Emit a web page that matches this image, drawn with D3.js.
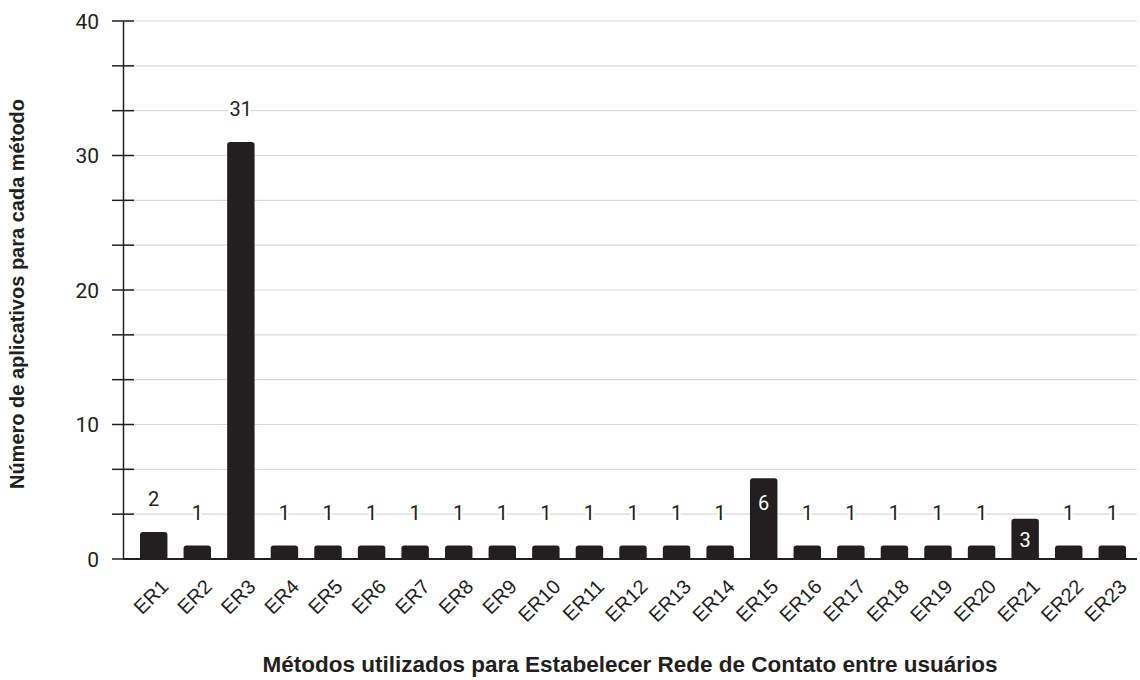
<!DOCTYPE html>
<html>
<head>
<meta charset="utf-8">
<script src="https://cdn.jsdelivr.net/npm/d3@7"></script>
<style>
  html, body { margin: 0; padding: 0; background: #fff; }
  svg { display: block; }
</style>
</head>
<body>
<svg id="chart" width="1140" height="680"></svg>
<script>
// Methods used to establish a contact network between users
const categories = ["ER1","ER2","ER3","ER4","ER5","ER6","ER7","ER8","ER9","ER10","ER11","ER12",
  "ER13","ER14","ER15","ER16","ER17","ER18","ER19","ER20","ER21","ER22","ER23"];
const counts = [2,1,31,1,1,1,1,1,1,1,1,1,1,1,6,1,1,1,1,1,3,1,1];
const yTickLabels = [0, 10, 20, 30, 40];
const yTitle = "Número de aplicativos para cada método";
const xTitle = "Métodos utilizados para Estabelecer Rede de Contato entre usuários";
// bars whose value label is drawn inside the bar
const labelInside = ["ER15", "ER21"];

const svg = d3.select("#chart");
const plotLeft = 123, plotRight = 1137, plotTop = 21, plotBottom = 559;
const sans = "Arial, 'Liberation Sans', Helvetica, sans-serif";
const numFont = "Roboto, sans-serif";

const x = d3.scaleBand().domain(categories).range([plotLeft, 1143])
  .paddingInner(0.37).paddingOuter(0.39);
const y = d3.scaleLinear().domain([0, 40]).range([plotBottom, plotTop]);

// grid lines every 10/3 units
const gridVals = d3.range(1, 13).map(i => i * 10 / 3);
svg.append("g").selectAll("line").data(gridVals).join("line")
  .attr("x1", plotLeft).attr("x2", plotRight)
  .attr("y1", d => y(d)).attr("y2", d => y(d))
  .attr("stroke", "#d9d9d9").attr("stroke-width", 1.2);

// y axis
const yAxis = d3.axisLeft(y).tickValues(yTickLabels).tickSize(0).tickFormat(d3.format("d"));
const gy = svg.append("g").attr("transform", `translate(${plotLeft},0)`).call(yAxis);
gy.select(".domain").attr("stroke", "#231f20").attr("stroke-width", 1.5);
gy.selectAll("text").attr("x", -24).attr("dy", "0.35em")
  .style("font-family", numFont).style("font-size", "21px").attr("fill", "#231f20");
// tick marks (major and minor)
const tickVals = [0].concat(gridVals);
svg.append("g").selectAll("line").data(tickVals).join("line")
  .attr("x1", plotLeft - 11).attr("x2", plotLeft + 11)
  .attr("y1", d => y(d)).attr("y2", d => y(d))
  .attr("stroke", "#231f20").attr("stroke-width", 1.5);

// bars with rounded tops
const r = 3;
function barPath(d, i) {
  const x0 = x(categories[i]), w = x.bandwidth();
  const y0 = y(d), y1 = y(0);
  return `M${x0},${y1} V${y0 + r} Q${x0},${y0} ${x0 + r},${y0} H${x0 + w - r} Q${x0 + w},${y0} ${x0 + w},${y0 + r} V${y1} Z`;
}
svg.append("g").selectAll("path").data(counts).join("path")
  .attr("d", barPath)
  .attr("fill", "#231f20");

// x axis baseline
svg.append("line").attr("x1", plotLeft).attr("x2", plotRight)
  .attr("y1", plotBottom).attr("y2", plotBottom)
  .attr("stroke", "#231f20").attr("stroke-width", 2);

// value labels
const lbl = svg.append("g").selectAll("g").data(counts).join("g");
lbl.each(function(d, i) {
  const g = d3.select(this);
  const cx = x(categories[i]) + x.bandwidth() / 2;
  const inside = labelInside.includes(categories[i]);
  const cy = inside ? y(d) + (d > 4 ? 25 : 21) : y(d) - 33;
  if (!inside) {
    g.append("text").attr("x", cx).attr("y", cy).attr("dy", "0.35em")
      .attr("text-anchor", "middle")
      .style("font-family", numFont).style("font-size", "20px")
      .attr("stroke", "#fff").attr("stroke-width", 5).attr("stroke-linejoin", "round")
      .attr("fill", "#fff").text(d);
  }
  g.append("text").attr("x", cx).attr("y", cy).attr("dy", "0.35em")
    .attr("text-anchor", "middle")
    .style("font-family", numFont).style("font-size", "20px")
    .attr("fill", inside ? "#fff" : "#231f20").text(d);
});

// category labels, rotated
svg.append("g").selectAll("text").data(categories).join("text")
  .attr("transform", d => `translate(${x(d) + x.bandwidth() / 2 + 6},${plotBottom + 19}) rotate(-45)`)
  .attr("text-anchor", "end").attr("dy", "0.7em")
  .style("font-family", sans).style("font-size", "20px")
  .attr("fill", "#231f20").text(d => d);

// axis titles
svg.append("text").attr("x", 630).attr("y", 672).attr("text-anchor", "middle")
  .style("font-family", sans).style("font-size", "22.5px")
  .style("font-weight", "bold").attr("fill", "#231f20").text(xTitle);
svg.append("text").attr("transform", "translate(24,294) rotate(-90)").attr("text-anchor", "middle")
  .style("font-family", sans).style("font-size", "20px")
  .style("font-weight", "bold").attr("fill", "#231f20").text(yTitle);
</script>
</body>
</html>
